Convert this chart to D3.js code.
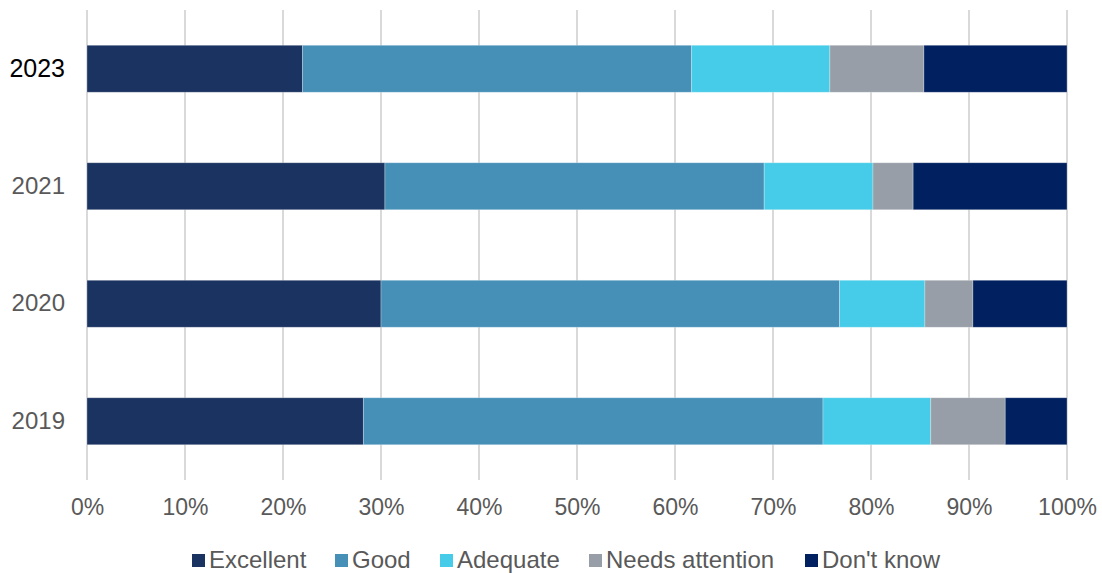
<!DOCTYPE html>
<html><head><meta charset="utf-8">
<script src="https://cdn.jsdelivr.net/npm/d3@7"></script>
<style>body{margin:0;background:#fff}svg{display:block}text{font-family:"Liberation Sans",Arial,sans-serif}</style>
</head><body>
<svg id="c" width="1102" height="573"></svg>
<script>
const years = ["2023","2021","2020","2019"];
const seriesNames = ["Excellent","Good","Adequate","Needs attention","Don't know"];
const excellent = [22.0,30.4,30.0,28.2];
const good = [39.7,38.7,46.8,46.9];
const adequate = [14.1,11.1,8.7,11.0];
const needsAttention = [9.6,4.1,4.9,7.6];
const dontKnow = [14.6,15.7,9.6,6.3];
const xTicks = [0,10,20,30,40,50,60,70,80,90,100];
const colors = ["#1B3360","#4690B8","#46CBE8","#979EA7","#00205F"];

const svg = d3.select("#c");
const L=87,R=1067,T=10,B=480;
const x = d3.scaleLinear().domain([0,100]).range([L,R]);
const y = d3.scaleBand().domain(years).range([T,B]).paddingInner(0.6).paddingOuter(0.3);

const rows = years.map((yr,i)=>({year:yr, "Excellent":excellent[i],"Good":good[i],"Adequate":adequate[i],"Needs attention":needsAttention[i],"Don't know":dontKnow[i]}));
const stack = d3.stack().keys(seriesNames)(rows);

svg.append("g").selectAll("line").data(xTicks).join("line")
  .attr("x1",d=>x(d)).attr("x2",d=>x(d)).attr("y1",T).attr("y2",B)
  .attr("stroke","#d9d9d9").attr("stroke-width",2);

svg.append("g").selectAll("g").data(stack).join("g")
  .attr("fill",(d,i)=>colors[i])
  .selectAll("rect").data(d=>d).join("rect")
  .attr("x",d=>x(d[0])).attr("width",d=>x(d[1])-x(d[0]))
  .attr("y",d=>y(d.data.year)).attr("height",y.bandwidth())
  .attr("stroke","rgba(255,255,255,0.35)").attr("stroke-width",0.8);

const xa = d3.axisBottom(x).tickValues(xTicks).tickFormat(d=>d+"%").tickSize(0).tickPadding(0);
const gx = svg.append("g").attr("transform",`translate(0,${B+19})`).call(xa);
gx.select(".domain").remove();
gx.selectAll("text").attr("font-size",23).attr("fill","#595959").attr("font-family","Liberation Sans, Arial, sans-serif");

const ya = d3.axisLeft(y).tickSize(0).tickPadding(22);
const gy = svg.append("g").attr("transform",`translate(${L},0)`).call(ya);
gy.select(".domain").remove();
gy.selectAll("text").attr("font-size",d=>d==="2023"?25:24).attr("fill",d=>d==="2023"?"#000":"#595959").attr("font-family","Liberation Sans, Arial, sans-serif");

const legX = [192,335,440,589,805];
const lg = svg.append("g").selectAll("g").data(seriesNames).join("g")
  .attr("transform",(d,i)=>`translate(${legX[i]},554)`);
lg.append("rect").attr("width",13).attr("height",13).attr("fill",(d,i)=>colors[i]);
lg.append("text").attr("x",17).attr("y",13.5).attr("font-size",24).attr("fill","#595959").text(d=>d);
</script>
</body></html>
